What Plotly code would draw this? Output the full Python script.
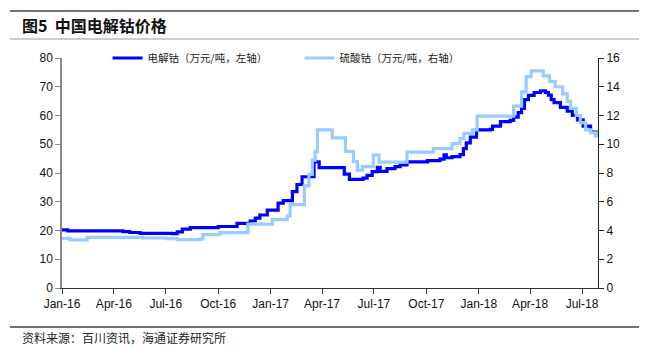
import plotly.graph_objects as go

# 电解钴 (万元/吨, 左轴)
cobalt_dates = ["2016-01-01","2016-01-11","2016-04-17","2016-04-29","2016-05-17","2016-07-12","2016-07-21",
    "2016-07-30","2016-08-13","2016-10-01","2016-11-03","2016-11-26","2016-12-05","2016-12-13","2016-12-26",
    "2017-01-14","2017-01-23","2017-02-08","2017-02-16","2017-02-25","2017-03-18","2017-03-27","2017-05-10",
    "2017-05-19","2017-06-12","2017-06-19","2017-06-28","2017-07-07","2017-07-12","2017-07-24","2017-08-07",
    "2017-08-16","2017-08-28","2017-10-03","2017-10-25","2017-11-01","2017-11-05","2017-11-15","2017-11-29",
    "2017-12-05","2017-12-10","2017-12-17","2017-12-28","2018-01-21","2018-01-25","2018-02-08","2018-02-25",
    "2018-03-03","2018-03-11","2018-03-17","2018-03-22","2018-03-29","2018-04-08","2018-04-19","2018-04-28",
    "2018-05-03","2018-05-08","2018-05-13","2018-05-24","2018-06-05","2018-06-14","2018-06-23","2018-07-03",
    "2018-07-16","2018-07-26"]
cobalt_vals = [20.2,19.9,19.6,19.3,19.0,18.9,19.5,
    20.5,21.0,21.4,22.5,23.3,24.3,25.4,27.1,
    29.5,30.4,33.5,36.0,38.7,43.9,41.9,39.6,
    37.8,38.2,39.2,40.5,42.0,40.6,41.5,42.2,
    42.8,43.9,44.3,44.8,46.3,45.3,45.7,46.4,
    48.5,50.5,52.5,55.0,55.2,56.3,57.9,58.3,
    59.4,61.0,62.5,65.5,67.0,68.0,68.6,68.0,
    67.1,65.5,64.5,62.8,61.5,60.0,58.5,56.3,
    54.2,52.5]

# 硫酸钴 (万元/吨, 右轴)
sulfate_dates = ["2016-01-01","2016-01-15","2016-02-14","2016-05-22","2016-07-03","2016-07-21","2016-08-30",
    "2016-09-04","2016-10-04","2016-11-22","2017-01-04","2017-01-30","2017-02-04","2017-03-01","2017-03-09",
    "2017-03-15","2017-03-20","2017-03-24","2017-04-19","2017-05-12","2017-05-26","2017-06-02","2017-06-11",
    "2017-06-30","2017-07-10","2017-08-28","2017-10-13","2017-11-15","2017-11-29","2017-12-06","2017-12-21",
    "2017-12-29","2018-03-03","2018-03-17","2018-03-25","2018-04-03","2018-04-24","2018-05-05","2018-05-15",
    "2018-05-28","2018-06-05","2018-06-11","2018-06-21","2018-06-28","2018-07-07","2018-07-16","2018-07-26"]
sulfate_vals = [3.45,3.35,3.52,3.48,3.44,3.36,3.42,
    3.72,3.85,4.45,4.75,5.0,5.8,7.1,7.9,
    8.9,9.5,11.0,10.45,9.5,8.8,8.2,8.45,
    9.25,8.75,9.45,9.7,10.05,10.4,10.75,11.0,
    11.95,12.65,13.65,14.7,15.1,14.75,14.35,14.0,
    13.5,13.0,12.5,12.0,11.5,11.0,10.8,10.45]

tick_dates = ["2016-01-01","2016-04-01","2016-07-01","2016-10-01","2017-01-01","2017-04-01",
              "2017-07-01","2017-10-01","2018-01-01","2018-04-01","2018-07-01"]
tick_labels = ["Jan-16","Apr-16","Jul-16","Oct-16","Jan-17","Apr-17",
               "Jul-17","Oct-17","Jan-18","Apr-18","Jul-18"]

title_text = "<b>图5  中国电解钴价格</b>"
source_text = "资料来源：百川资讯，海通证券研究所"

fig = go.Figure()
fig.add_trace(go.Scatter(x=sulfate_dates, y=sulfate_vals, mode="lines", line_shape="hv",
                         name="硫酸钴（万元/吨，右轴）", line=dict(color="#99CCFF", width=3.2), yaxis="y2"))
fig.add_trace(go.Scatter(x=cobalt_dates, y=cobalt_vals, mode="lines", line_shape="hv",
                         name="电解钴（万元/吨，左轴）", line=dict(color="#0000FF", width=3.2), yaxis="y"))

tickfont = dict(family="Liberation Sans, Arial", size=12, color="#111")
fig.update_layout(
    width=657, height=355,
    margin=dict(l=62, r=59, t=58, b=67),
    paper_bgcolor="white", plot_bgcolor="white",
    showlegend=True,
    legend=dict(orientation="h", x=0.085, y=1.0, xanchor="left", yanchor="middle",
                traceorder="reversed", entrywidth=147,
                font=dict(family="Noto Sans CJK SC", size=10.5, color="#222"),
                bgcolor="rgba(0,0,0,0)"),
    xaxis=dict(type="date", range=["2016-01-01","2018-07-29"], tickvals=tick_dates, ticktext=tick_labels,
               ticks="outside", ticklen=5, tickcolor="#333", showline=True, linecolor="#333", linewidth=1,
               showgrid=False, zeroline=False, tickfont=tickfont),
    yaxis=dict(range=[0,80], dtick=10, ticks="outside", ticklen=5, tickcolor="#888", showline=True,
               linecolor="#888", linewidth=1.5, showgrid=False, zeroline=False, tickfont=tickfont),
    yaxis2=dict(range=[0,16], dtick=2, overlaying="y", side="right", ticks="outside", ticklen=5,
                tickcolor="#222", showline=True, linecolor="#222", linewidth=1, showgrid=False,
                zeroline=False, tickfont=tickfont),
    shapes=[
        dict(type="line", xref="paper", yref="paper", x0=-0.0970, x1=1.0765, y0=1.2043, y1=1.2043,
             line=dict(color="#444", width=1.5)),
        dict(type="line", xref="paper", yref="paper", x0=-0.0970, x1=1.0765, y0=1.0826, y1=1.0826,
             line=dict(color="#999", width=1.2)),
        dict(type="line", xref="paper", yref="paper", x0=-0.0970, x1=1.0765, y0=-0.1696, y1=-0.1696,
             line=dict(color="#444", width=1.5)),
    ],
    annotations=[
        dict(text=title_text, xref="paper", yref="paper", x=-0.078, y=1.145, xanchor="left", yanchor="middle",
             showarrow=False, font=dict(family="Noto Sans CJK SC", size=16, color="#111")),
        dict(text=source_text, xref="paper", yref="paper", x=-0.078, y=-0.215, xanchor="left", yanchor="middle",
             showarrow=False, font=dict(family="Noto Sans CJK SC", size=12, color="#222")),
    ],
)

fig.write_html("out.html")
